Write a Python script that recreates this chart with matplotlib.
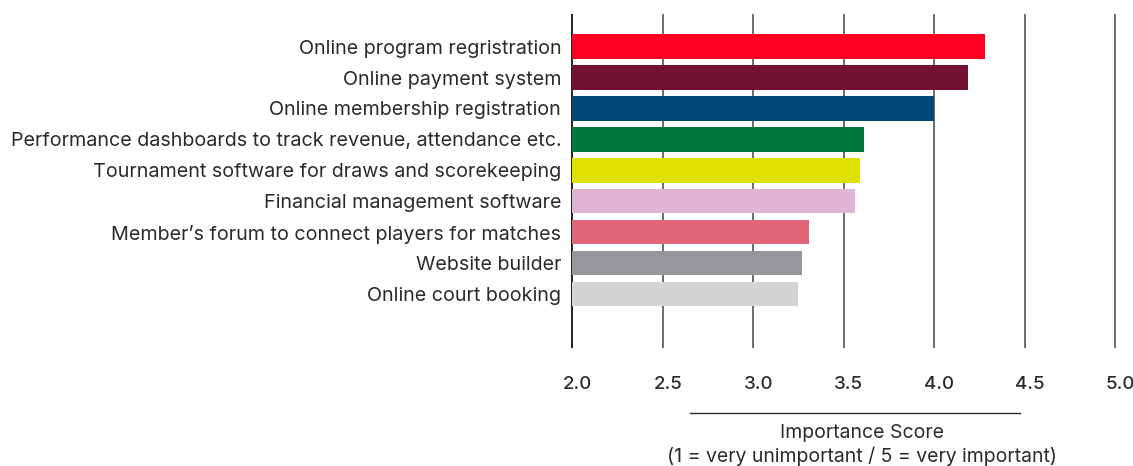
import matplotlib
matplotlib.use("Agg")
import matplotlib.pyplot as plt
import matplotlib.transforms as mtransforms
from matplotlib.lines import Line2D

categories = [
    "Online program regristration",
    "Online payment system",
    "Online membership registration",
    "Performance dashboards to track revenue, attendance etc.",
    "Tournament software for draws and scorekeeping",
    "Financial management software",
    "Member\u2019s forum to connect players for matches",
    "Website builder",
    "Online court booking",
]
scores = [4.28, 4.19, 4.00, 3.61, 3.59, 3.56, 3.31, 3.27, 3.25]
colors = ["#FF0020", "#721230", "#014876", "#00783C", "#DFE000",
          "#E1B4D5", "#E26677", "#96979B", "#D3D4D6"]
xticks = [2.0, 2.5, 3.0, 3.5, 4.0, 4.5, 5.0]
xmin = 2.0

INK = "#2b2b2b"
plt.rcParams["font.family"] = ["Inter", "DejaVu Sans"]

W, H = 1133, 466
fig = plt.figure(figsize=(W / 100, H / 100), dpi=100)
ax = fig.add_axes([572.3 / W, (H - 347) / H, (1115 - 572.3) / W, (347 - 15) / H])

y = list(range(len(categories)))
ax.barh(y, [s - xmin for s in scores], left=xmin, height=0.79, color=colors, zorder=3)

ax.set_xlim(2.0, 5.0)
ax.set_ylim(9.71, -1.02)

for i, t in enumerate(xticks):
    ax.axvline(t, color="#222222" if i == 0 else "#6b6b6b", linewidth=1.4,
               zorder=1, clip_on=False)

for s in ax.spines.values():
    s.set_visible(False)

ax.set_yticks(y)
ax.set_yticklabels(categories, fontsize=14.2, color=INK)
ax.tick_params(axis="y", length=0, pad=8)

ax.set_xticks(xticks)
ax.set_xticklabels([f"{t:.1f}" for t in xticks], fontsize=13.5, fontweight="medium", color=INK)
ax.tick_params(axis="x", length=0, pad=21)
offset = mtransforms.ScaledTranslation(5 / 100, 0, fig.dpi_scale_trans)
for lab in ax.get_xticklabels():
    lab.set_transform(lab.get_transform() + offset)

fig.add_artist(Line2D([690 / W, 1020 / W], [(H - 413) / H] * 2,
                      color=INK, linewidth=1.0))
fig.text(862 / W, (H - 433) / H, "Importance Score", ha="center", va="center",
         fontsize=14, color=INK)
fig.text(862 / W, (H - 456) / H, "(1 = very unimportant / 5 = very important)",
         ha="center", va="center", fontsize=14, color=INK)

fig.savefig("out.png", dpi=100, facecolor="white")
